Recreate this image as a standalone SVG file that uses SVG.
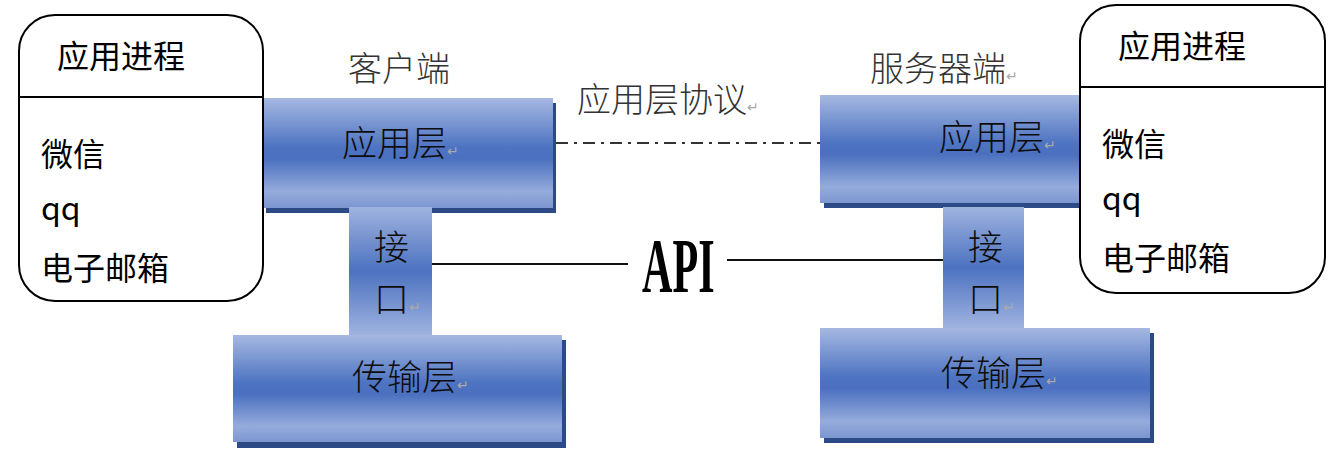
<svg xmlns="http://www.w3.org/2000/svg" width="1342" height="454" viewBox="0 0 1342 454">
<style>
.proc{fill:#fff;stroke:#000;stroke-width:2}
.div{stroke:#000;stroke-width:2}
.pt{font-family:"Noto Sans CJK SC","Noto Sans",sans-serif;font-size:32px;font-weight:400;fill:#000}
.bt{font-family:"Noto Sans CJK SC",sans-serif;font-size:35px;font-weight:300;fill:#0d0d0d}
.lt{font-family:"Noto Sans CJK SC",sans-serif;font-size:34px;font-weight:300;fill:#333}
.ret{font-size:14px;fill:#aaa;font-weight:400}
.shadow{fill:#2c4a85}
</style>
<defs>
<linearGradient id="gv" x1="0" y1="0" x2="0" y2="1">
<stop offset="0" stop-color="#a6b8e2"/>
<stop offset="0.45" stop-color="#4d73c1"/>
<stop offset="0.55" stop-color="#4a70bf"/>
<stop offset="0.85" stop-color="#95abdb"/>
<stop offset="1" stop-color="#7c96d0"/>
</linearGradient>
<linearGradient id="gi" x1="0" y1="0" x2="0" y2="1">
<stop offset="0" stop-color="#9fb3df"/>
<stop offset="0.5" stop-color="#4c72c0"/>
<stop offset="1" stop-color="#9fb3df"/>
</linearGradient>
</defs>

<g id="client-app">
<rect class="shadow" x="266" y="103" width="290" height="110"/>
<rect x="263" y="98" width="290" height="110" fill="url(#gv)"/>
<text class="bt" x="342" y="156">应用层<tspan class="ret">↵</tspan></text>
</g>
<g id="client-iface">
<rect x="349" y="207" width="83" height="128" fill="url(#gi)"/>
<text class="bt" x="374" y="260" font-size="33">接</text>
<text class="bt" x="374" y="312" font-size="33">口<tspan class="ret">↵</tspan></text>
</g>
<g id="client-transport">
<rect class="shadow" x="237" y="340" width="329" height="108"/>
<rect x="233" y="335" width="329" height="107" fill="url(#gv)"/>
<text class="bt" x="352" y="390">传输层<tspan class="ret">↵</tspan></text>
</g>

<g id="server-app">
<rect class="shadow" x="824" y="100" width="260" height="108"/>
<rect x="820" y="95" width="262" height="108" fill="url(#gv)"/>
<text class="bt" x="939" y="150">应用层<tspan class="ret">↵</tspan></text>
</g>
<g id="server-iface">
<rect x="943" y="207" width="81" height="121" fill="url(#gi)"/>
<text class="bt" x="968" y="260" font-size="33">接</text>
<text class="bt" x="968" y="312" font-size="33">口<tspan class="ret">↵</tspan></text>
</g>
<g id="server-transport">
<rect class="shadow" x="824" y="333" width="330" height="110"/>
<rect x="820" y="328" width="330" height="110" fill="url(#gv)"/>
<text class="bt" x="941" y="386">传输层<tspan class="ret">↵</tspan></text>
</g>

<g id="client-process">
<rect class="proc" x="19" y="15" width="244" height="286" rx="36" ry="36"/>
<line class="div" x1="19" y1="97" x2="263" y2="97"/>
<text class="pt" x="57" y="68">应用进程</text>
<text class="pt" x="41" y="166">微信</text>
<text class="pt" x="41" y="220">qq</text>
<text class="pt" x="41" y="280">电子邮箱</text>
</g>
<g id="server-process">
<rect class="proc" x="1080" y="5" width="245" height="288" rx="36" ry="36"/>
<line class="div" x1="1080" y1="87" x2="1325" y2="87"/>
<text class="pt" x="1118" y="58">应用进程</text>
<text class="pt" x="1102" y="156">微信</text>
<text class="pt" x="1102" y="210">qq</text>
<text class="pt" x="1102" y="270">电子邮箱</text>
</g>

<g id="labels">
<text class="lt" x="348" y="81">客户端</text>
<text class="lt" x="870" y="81">服务器端<tspan class="ret">↵</tspan></text>
<text class="lt" x="577" y="112" font-size="29">应用层协议<tspan class="ret">↵</tspan></text>
</g>

<g id="connectors">
<line x1="556" y1="143" x2="820" y2="143" stroke="#333" stroke-width="2" stroke-dasharray="12 6 3 6"/>
<line x1="432" y1="264" x2="628" y2="264" stroke="#111" stroke-width="2"/>
<line x1="727" y1="260" x2="943" y2="260" stroke="#111" stroke-width="2"/>
<text transform="translate(642,292) scale(0.54,1)" font-family="Liberation Serif" font-weight="bold" font-size="78" fill="#000">API</text>
</g>
</svg>
